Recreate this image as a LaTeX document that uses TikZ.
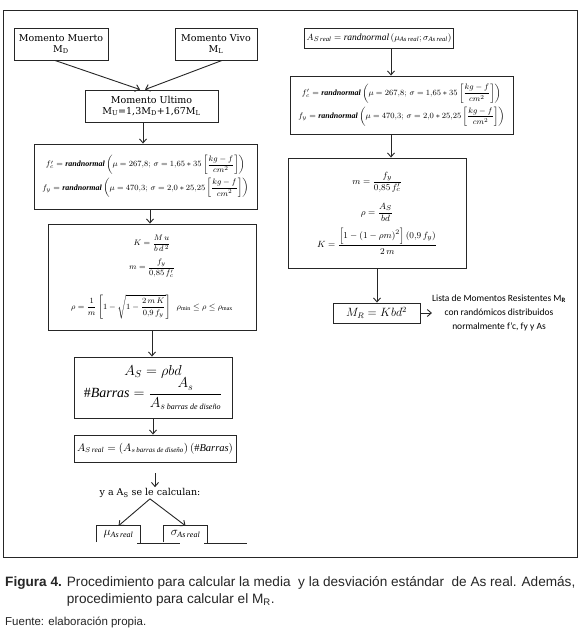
\documentclass[tikz,border=0pt]{standalone}
\usepackage{amsmath}
\usepackage{fontspec}
\setmainfont{Liberation Serif}
\newfontfamily\boxfont{DejaVu Serif}
\newfontfamily\capfont{Liberation Sans}
\newfontfamily\listfont{Carlito}
\usetikzlibrary{arrows.meta}
\tikzset{
  bx/.style={draw=black!85, line width=0.9pt, inner sep=2pt, align=center},
  arr/.style={-{Straight Barb[length=4pt,width=7pt]}, line width=0.9pt, draw=black!85},
  openbox/.style={line width=0.9pt, draw=black!85},
  small/.style={font=\fontsize{8}{10}\selectfont},
}
\begin{document}
\begin{tikzpicture}[x=1pt,y=-1pt]
\useasboundingbox (0,0) rectangle (579,643);
\fill[white] (0,0) rectangle (579,643);
\draw[line width=0.9pt, black!85] (3,10) rectangle (577,557);

% ---------- left column ----------
\node[bx, minimum width=94pt, minimum height=32pt, font=\boxfont\fontsize{9.5}{11}\selectfont] (mm) at (61,44) {Momento Muerto\\M\textsubscript{D}};
\node[bx, minimum width=82pt, minimum height=32pt, font=\boxfont\fontsize{9.5}{11}\selectfont] (mv) at (216,44) {Momento Vivo\\M\textsubscript{L}};
\node[bx, minimum width=133pt, minimum height=32pt, font=\boxfont\fontsize{9.5}{11}\selectfont] (mu) at (151.5,106) {Momento Ultimo\\M\textsubscript{U}=1,3M\textsubscript{D}+1,67M\textsubscript{L}};

\node[bx, small, minimum width=223pt, minimum height=65pt] (b2) at (145.5,176.5)
 {$f'_c=\textbf{\textit{randnormal}}\left(\mu=267{,}8;\,\sigma=1{,}65*35\left[\dfrac{kg-f}{cm^2}\right]\right)$\\[3pt]
  $f_y=\textbf{\textit{randnormal}}\left(\mu=470{,}3;\,\sigma=2{,}0*25{,}25\left[\dfrac{kg-f}{cm^2}\right]\right)$};

\node[bx, font=\fontsize{8.5}{11}\selectfont, minimum width=208pt, minimum height=106pt] (b3) at (152,277)
 {$K=\dfrac{M\,u}{b\,d^{\,2}}$\\[6pt]
  $m=\dfrac{f_y}{0{,}85\,f'_c}$\\[16pt]
  $\rho=\dfrac{1}{m}\left[1-\sqrt{1-\dfrac{2\,m\,K}{0{,}9\,f_y}}\right]\;\;\rho_{\min}\le\rho\le\rho_{\max}$};

\node[bx, minimum width=158pt, minimum height=61pt, font=\fontsize{14}{16}\selectfont] (b4) at (153,387.5)
 {$A_S=\rho bd$\\[-1pt]
  $\#\mathit{Barras}=\dfrac{A_s}{A_{s\,\textit{\footnotesize barras de diseño}}}$};

\node[bx, minimum width=162pt, minimum height=27pt, font=\fontsize{10.5}{12}\selectfont] (b5) at (155,448.5)
 {$A_{S\,\mathit{real}}=\left(A_{s\,\textit{\scriptsize barras de diseño}}\right)\left(\#\mathit{Barras}\right)$};

\node[inner sep=1pt, font=\boxfont\fontsize{9.5}{11}\selectfont] (yac) at (150,493) {y a A\textsubscript{S} se le calculan:};

\node[minimum width=43pt, minimum height=16pt, inner sep=0pt, font=\fontsize{12}{12}\selectfont] (mub) at (118.5,534) {$\mu_{\mathit{As\,real}}$};
\node[minimum width=43pt, minimum height=16pt, inner sep=0pt, font=\fontsize{12}{12}\selectfont] (sgb) at (185.5,534) {$\sigma_{\mathit{As\,real}}$};
\draw[openbox] (mub.south west) -- (mub.north west) -- (mub.north east) -- ([yshift=-1pt]mub.south east);
\draw[openbox] ([xshift=-3pt,yshift=-1pt]mub.south east) -- ++(43,0);
\draw[openbox] (sgb.south west) -- (sgb.north west) -- (sgb.north east) -- ([yshift=-1pt]sgb.south east);
\draw[openbox] ([xshift=-3pt,yshift=-1pt]sgb.south east) -- ++(43,0);

\draw[arr] ([xshift=-6pt]mm.south) -- ([xshift=-11.5pt]mu.north);
\draw[arr] ([xshift=6pt]mv.south) -- ([xshift=-6.5pt]mu.north);
\draw[arr] ([xshift=-8.5pt]mu.south) -- ([xshift=-8.5pt]mu.south |- b2.north);
\coordinate (x150) at (150,0);
\draw[arr] (b2.south -| x150) -- (b3.north -| x150);
\draw[arr] (b3.south) -- (b3.south |- b4.north);
\draw[arr] (b4.south) -- (b4.south |- b5.north);
\draw[arr, shorten <=11pt] (b5.south) -- (b5.south |- yac.north);
\draw[arr] (yac.south) -- (mub.north);
\draw[arr] (yac.south) -- (sgb.north);

% ---------- right column ----------
\node[bx, minimum width=138pt, minimum height=20pt, font=\fontsize{9.5}{11}\selectfont] (r1) at (379,38)
 {$A_{S\,\mathit{real}}=\mathit{randnormal}\left(\mu_{\mathit{As\,real}};\sigma_{\mathit{As\,real}}\right)$};

\node[bx, small, minimum width=223pt, minimum height=58pt] (r2) at (401.5,105)
 {$f'_c=\textbf{\textit{randnormal}}\left(\mu=267{,}8;\,\sigma=1{,}65*35\left[\dfrac{kg-f}{cm^2}\right]\right)$\\[3pt]
  $f_y=\textbf{\textit{randnormal}}\left(\mu=470{,}3;\,\sigma=2{,}0*25{,}25\left[\dfrac{kg-f}{cm^2}\right]\right)$};

\node[bx, font=\fontsize{9.5}{12}\selectfont, minimum width=178pt, minimum height=110pt] (r3) at (377,213)
 {$m=\dfrac{f_y}{0{,}85\,f'_c}$\\[10pt]
  $\rho=\dfrac{A_S}{bd}$\\[6pt]
  $K=\dfrac{\left[1-\left(1-\rho m\right)^2\right]\left(0{,}9\,f_y\right)}{2\,m}$};

\node[bx, minimum width=87pt, minimum height=20pt, font=\fontsize{12}{13}\selectfont] (r4) at (376.5,313) {$M_R=Kbd^2$};

\node[inner sep=0pt, align=center, font=\listfont\fontsize{9.5}{14}\selectfont] (lista) at (499,313)
 {Lista de Momentos Resistentes M\textsubscript{\textbf{R}}\\con randómicos distribuidos\\normalmente f’c, fy y As};

\coordinate (x391) at (391,0);
\coordinate (x377) at (377,0);
\draw[arr] (r1.south -| x391) -- (r2.north -| x391);
\draw[arr] (r2.south -| x391) -- (r3.north -| x391);
\draw[arr] (r3.south -| x377) -- (r4.north -| x377);
\draw[arr] (r4.east) -- (lista.west);

% ---------- caption ----------
\node[anchor=north west, inner sep=0pt, text=black!85, font=\capfont\fontsize{13.6}{17}\selectfont] (cap) at (5,574)
 {\begin{tabular}{@{}l@{ }l@{}}\textbf{Figura 4.} & Procedimiento para calcular la media\ \ y la desviación estándar\ \ de As real. Además,\\
  & procedimiento para calcular el M\textsubscript{R}.\end{tabular}};
\node[anchor=west, inner sep=0pt, text=black!85, font=\capfont\fontsize{11.5}{13}\selectfont] (fuente) at (5,622) {Fuente: elaboración propia.};
\end{tikzpicture}
\end{document}
